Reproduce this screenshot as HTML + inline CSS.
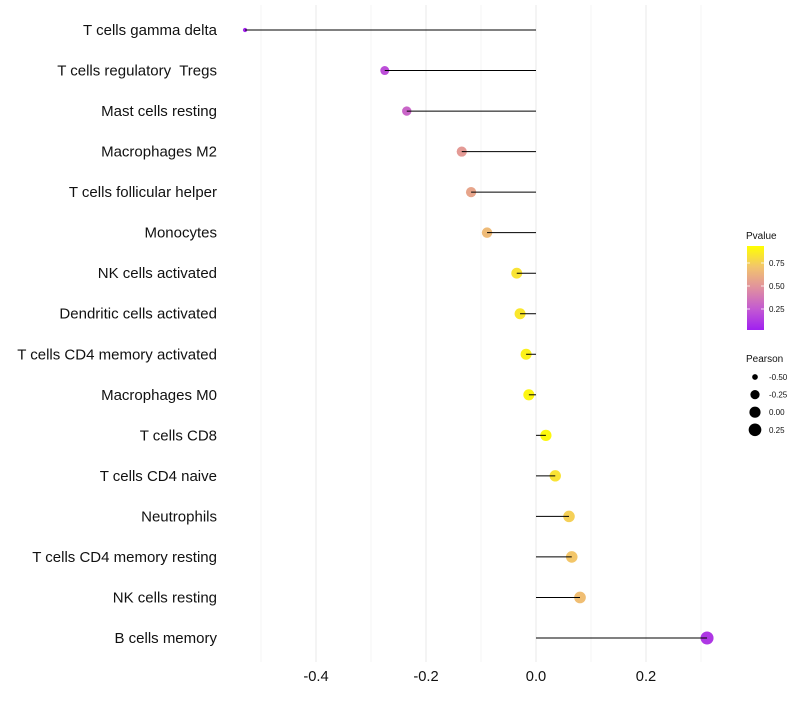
<!DOCTYPE html>
<html><head><meta charset="utf-8"><style>
body{margin:0;background:#fff;font-family:"Liberation Sans",sans-serif;}
svg text{font-family:"Liberation Sans",sans-serif;white-space:pre;}
</style></head><body>
<svg id="c" width="800" height="700"></svg>
<script>
const categories=["T cells gamma delta","T cells regulatory  Tregs","Mast cells resting","Macrophages M2","T cells follicular helper","Monocytes","NK cells activated","Dendritic cells activated","T cells CD4 memory activated","Macrophages M0","T cells CD8","T cells CD4 naive","Neutrophils","T cells CD4 memory resting","NK cells resting","B cells memory"];
const pearson=[-0.529,-0.275,-0.235,-0.135,-0.118,-0.089,-0.035,-0.029,-0.018,-0.013,0.018,0.035,0.06,0.065,0.08,0.311];
const pvalue=[0.02,0.2,0.3,0.55,0.6,0.7,0.88,0.9,0.94,0.96,0.97,0.88,0.8,0.76,0.72,0.1];
const xTicks=[-0.4,-0.2,0.0,0.2];
const xMinor=[-0.5,-0.3,-0.1,0.1,0.3];
const pvTicks=[0.25,0.5,0.75];
const sizeTicks=[-0.5,-0.25,0,0.25];
const NS='http://www.w3.org/2000/svg';
const svg=document.getElementById('c');
function mk(t,a,p){const e=document.createElementNS(NS,t);for(const k in a)e.setAttribute(k,a[k]);(p||svg).appendChild(e);return e;}
const x=v=>536+v*550;
const y=i=>30+i*(608/15);
const r=v=>2+4.5*Math.sqrt(Math.max(0,(v+0.53)/0.84));
const stops=[[0,[160,32,240]],[0.25,[195,90,210]],[0.5,[224,144,159]],[0.75,[242,196,109]],[1,[255,255,0]]];
function col(p){p=Math.max(0,Math.min(1,p));for(let i=1;i<stops.length;i++){if(p<=stops[i][0]){const a=stops[i-1],b=stops[i];const t=(p-a[0])/(b[0]-a[0]);const c=a[1].map((v,k)=>Math.round(v+(b[1][k]-v)*t));return `rgb(${c})`;}}return 'rgb(255,255,0)';}
xMinor.forEach(v=>{const l=mk('line',{x1:x(v),x2:x(v),y1:5,y2:662,stroke:'#f0f0f0','stroke-width':0.6});

});
xTicks.forEach(v=>{const l=mk('line',{x1:x(v),x2:x(v),y1:5,y2:662,stroke:'#ebebeb','stroke-width':1.1});


const t=mk('text',{x:x(v),y:681,'text-anchor':'middle','font-size':14.7,fill:'#111'});t.textContent=v.toFixed(1);

});
categories.forEach((c,i)=>{
const t=mk('text',{x:217,y:y(i)+5,'text-anchor':'end','font-size':15,fill:'#111'});t.textContent=c;


const p=mk('circle',{cx:x(pearson[i]),cy:y(i),r:r(pearson[i]),fill:col(pvalue[i])});


const l=mk('line',{x1:x(0),x2:x(pearson[i]),y1:y(i),y2:y(i),stroke:'#000','stroke-width':1});


});
const defs=mk('defs',{});const g=mk('linearGradient',{id:'pg',x1:0,y1:1,x2:0,y2:0},defs);
stops.forEach(s=>mk('stop',{offset:s[0],'stop-color':`rgb(${s[1]})`},g));
const lt=mk('text',{x:746,y:239,'font-size':10,fill:'#111'});lt.textContent='Pvalue';


const cb=mk('rect',{x:747,y:246,width:17,height:84,fill:'url(#pg)'});


const pv=v=>332-v*92;
pvTicks.forEach(v=>{mk('line',{x1:747,x2:750,y1:pv(v),y2:pv(v),stroke:'#fff','stroke-width':0.8});mk('line',{x1:761,x2:764,y1:pv(v),y2:pv(v),stroke:'#fff','stroke-width':0.8});
const t=mk('text',{x:769,y:pv(v)+3,'font-size':8,fill:'#111'});t.textContent=v.toFixed(2);

});
const st=mk('text',{x:746,y:362,'font-size':10,fill:'#111'});st.textContent='Pearson';


sizeTicks.forEach((v,i)=>{const yy=377+i*17.6;
const c=mk('circle',{cx:755,cy:yy,r:r(v),fill:'#000'});


const t=mk('text',{x:769,y:yy+3,'font-size':8,fill:'#111'});t.textContent=v.toFixed(2);

});
</script>
</body></html>
